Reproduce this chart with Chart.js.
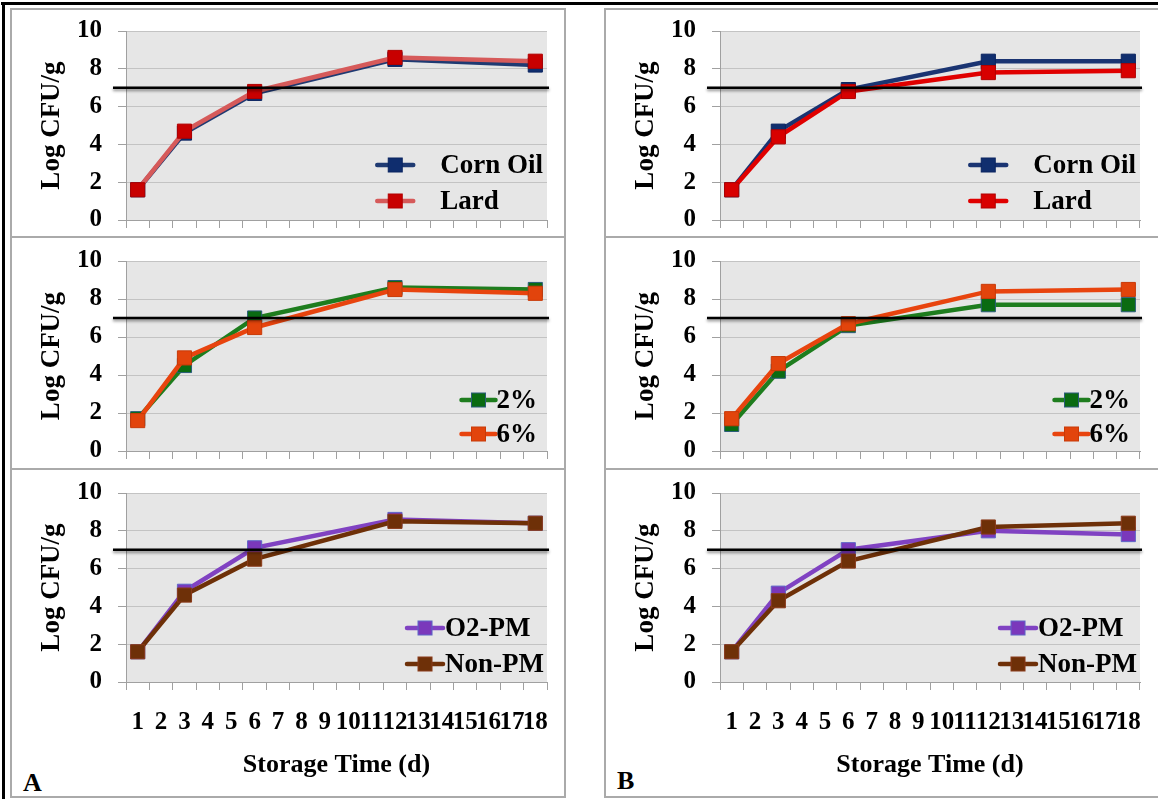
<!DOCTYPE html>
<html>
<head>
<meta charset="utf-8">
<script src="https://cdn.jsdelivr.net/npm/chart.js@4"></script>
<style>
  html, body { margin: 0; padding: 0; background: #fff; }
  body { position: relative; width: 1158px; height: 799px; overflow: hidden; }
  .abs { position: absolute; }
  .frame { position: absolute; border: 2px solid #aaaaaa; box-sizing: border-box; }
  .black { position: absolute; background: #000; }
  .tag { position: absolute; font: bold 26px "Liberation Serif", serif; color: #000; line-height: 1; }
</style>
</head>
<body>
<!-- outer rule lines -->
<div class="black" style="left:1px;top:2px;width:1157px;height:3px;"></div>
<div class="black" style="left:2px;top:2px;width:3px;height:797px;"></div>

<!-- panel frames -->
<div class="frame" style="left:10px;top:8px;width:556px;height:230px;"></div>
<div class="frame" style="left:10px;top:236px;width:556px;height:234px;"></div>
<div class="frame" style="left:10px;top:468px;width:556px;height:330px;"></div>
<div class="frame" style="left:604px;top:8px;width:570px;height:230px;"></div>
<div class="frame" style="left:604px;top:236px;width:570px;height:234px;"></div>
<div class="frame" style="left:604px;top:468px;width:570px;height:330px;"></div>

<div class="tag" style="left:23px;top:770px;">A</div>
<div class="tag" style="left:617px;top:768px;">B</div>

<div class="abs" style="left:11px;top:0px;"><canvas id="a1" width="556" height="252"></canvas></div>
<div class="abs" style="left:11px;top:230px;"><canvas id="a2" width="556" height="253"></canvas></div>
<div class="abs" style="left:11px;top:462px;"><canvas id="a3" width="556" height="340"></canvas></div>
<div class="abs" style="left:605px;top:0px;"><canvas id="b1" width="555" height="252"></canvas></div>
<div class="abs" style="left:605px;top:230px;"><canvas id="b2" width="555" height="253"></canvas></div>
<div class="abs" style="left:605px;top:462px;"><canvas id="b3" width="555" height="340"></canvas></div>

<script>
// Sampling days and the category labels of the time axis
const days = [1, 3, 6, 12, 18];
const dayLabels = ['1','2','3','4','5','6','7','8','9','10','11','12','13','14','15','16','17','18'];
const spoilageLimit = 7;

// Log CFU/g, column A
const aCornOil = [1.6, 4.6, 6.7, 8.5, 8.2];
const aLard    = [1.6, 4.7, 6.8, 8.6, 8.4];
const aFat2    = [1.7, 4.5, 7.0, 8.6, 8.5];
const aFat6    = [1.6, 4.9, 6.5, 8.5, 8.3];
const aO2PM    = [1.6, 4.8, 7.1, 8.6, 8.4];
const aNonPM   = [1.6, 4.6, 6.5, 8.5, 8.4];

// Log CFU/g, column B
const bCornOil = [1.6, 4.7, 6.9, 8.4, 8.4];
const bLard    = [1.6, 4.4, 6.8, 7.8, 7.9];
const bFat2    = [1.4, 4.2, 6.6, 7.7, 7.7];
const bFat6    = [1.7, 4.6, 6.7, 8.4, 8.5];
const bO2PM    = [1.6, 4.7, 7.0, 8.0, 7.8];
const bNonPM   = [1.6, 4.3, 6.4, 8.2, 8.4];

const SERIF = '"Liberation Serif", "Times New Roman", serif';

// light grey plotting area
const plotBg = {
  id: 'plotBg',
  beforeDraw(chart) {
    const { ctx, chartArea: a } = chart;
    ctx.save();
    ctx.fillStyle = '#e6e6e6';
    ctx.fillRect(a.left, a.top, a.right - a.left, a.bottom - a.top);
    ctx.restore();
  }
};

// black reference line at the spoilage limit
const limitLine = {
  id: 'limitLine',
  afterDatasetsDraw(chart) {
    const { ctx, chartArea: a, scales } = chart;
    const y = scales.y.getPixelForValue(spoilageLimit);
    ctx.save();
    ctx.shadowColor = 'rgba(0,0,0,0.45)';
    ctx.shadowBlur = 3;
    ctx.shadowOffsetY = 2;
    ctx.strokeStyle = '#000';
    ctx.lineWidth = 2.6;
    ctx.beginPath();
    ctx.moveTo(a.left - 13, y);
    ctx.lineTo(a.right + 2, y);
    ctx.stroke();
    ctx.restore();
  }
};

// legend entries drawn as a line with a square marker, inside the plot
const lineLegend = {
  id: 'lineLegend',
  afterDraw(chart, args, opts) {
    const { ctx, chartArea: a } = chart;
    const ds = chart.data.datasets;
    ctx.save();
    ctx.font = 'bold ' + opts.fontSize + 'px ' + SERIF;
    const maxW = Math.max(...ds.map(d => ctx.measureText(d.label).width));
    const textX = a.right - opts.rightPad - maxW;
    ds.forEach((d, i) => {
      const y = a.bottom + opts.rows[i];
      const x2 = textX - opts.gap;
      const x1 = x2 - opts.sampleLen;
      ctx.strokeStyle = d.borderColor;
      ctx.lineWidth = 4.5;
      ctx.lineCap = 'round';
      ctx.beginPath();
      ctx.moveTo(x1, y);
      ctx.lineTo(x2, y);
      ctx.stroke();
      const s = 14, cx = (x1 + x2) / 2;
      ctx.fillStyle = d.pointBackgroundColor;
      ctx.fillRect(cx - s / 2, y - s / 2, s, s);
      ctx.lineWidth = 1;
      ctx.strokeStyle = d.pointBorderColor;
      ctx.strokeRect(cx - s / 2, y - s / 2, s, s);
      ctx.fillStyle = '#000';
      ctx.textAlign = 'left';
      ctx.textBaseline = 'middle';
      ctx.fillText(d.label, textX, y + 1);
    });
    ctx.restore();
  }
};

function series(label, values, line, marker, edge, order) {
  return {
    label,
    data: days.map((d, i) => ({ x: String(d), y: values[i] })),
    borderColor: line,
    borderWidth: 4.5,
    pointStyle: 'rect',
    pointRadius: 10,
    pointHoverRadius: 10,
    pointBackgroundColor: marker,
    pointBorderColor: edge,
    pointBorderWidth: 1,
    tension: 0,
    order
  };
}

function panel(id, sets, bottomRow, legendOpts) {
  const canvas = document.getElementById(id);
  const plotW = id[0] === 'a' ? 421 : 420;
  const tickFont = { family: SERIF, size: 25, weight: 'bold' };
  new Chart(canvas, {
    type: 'line',
    data: { labels: dayLabels, datasets: sets },
    options: {
      responsive: false,
      animation: false,
      devicePixelRatio: 1,
      layout: { padding: { left: 0, top: 31, right: canvas.width - 115 - plotW, bottom: 0 } },
      plugins: {
        legend: { display: false },
        tooltip: { enabled: false },
        lineLegend: legendOpts
      },
      scales: {
        x: {
          type: 'category',
          offset: true,
          grid: { offset: true, drawOnChartArea: false, drawTicks: true, tickLength: 8, tickColor: '#a0a0a0' },
          border: { color: '#a0a0a0', width: 1 },
          ticks: { display: bottomRow, autoSkip: false, maxRotation: 0, minRotation: 0, font: tickFont, color: '#000', padding: 18 },
          title: { display: bottomRow, text: 'Storage Time (d)', font: { family: SERIF, size: 26, weight: 'bold' }, color: '#000', padding: { top: 0, bottom: 21 } },
          afterFit(s) { s.height = bottomRow ? 120 : 32; }
        },
        y: {
          min: 0,
          max: 10,
          ticks: { stepSize: 2, font: tickFont, color: '#000', padding: 16 },
          grid: { color: '#c3c3c3', lineWidth: 1, tickLength: 8, tickColor: '#a0a0a0' },
          border: { color: '#a0a0a0', width: 1 },
          title: { display: true, text: 'Log CFU/g', font: { family: SERIF, size: 27, weight: 'bold' }, color: '#000', padding: { top: 25, bottom: 0 } },
          afterFit(s) { s.width = 115; }
        }
      }
    },
    plugins: [plotBg, limitLine, lineLegend]
  });
}

const legTop = { fontSize: 27, rightPad: 4, gap: 27, sampleLen: 36, rows: [-55, -19] };
const legMid = { fontSize: 27, rightPad: 10, gap: 1, sampleLen: 34, rows: [-51, -17] };
const legBot = { fontSize: 27, rightPad: 3, gap: 2, sampleLen: 36, rows: [-54, -18] };

panel('a1', [
  series('Corn Oil', aCornOil, '#1f3a72', '#0f2d6e', '#0a2460', 1),
  series('Lard', aLard, '#d65a5a', '#c80000', '#b00000', 0)
], false, legTop);
panel('a2', [
  series('2%', aFat2, '#1e7d1e', '#0a6b12', '#2a5c7a', 1),
  series('6%', aFat6, '#e8440e', '#e2440c', '#c83a08', 0)
], false, legMid);
panel('a3', [
  series('O2-PM', aO2PM, '#8042c2', '#7a38bb', '#5e66c8', 1),
  series('Non-PM', aNonPM, '#6e3008', '#6e3008', '#8a3a1a', 0)
], true, legBot);

panel('b1', [
  series('Corn Oil', bCornOil, '#1a3472', '#102e6e', '#0a2460', 1),
  series('Lard', bLard, '#e00000', '#d80000', '#b00000', 0)
], false, legTop);
panel('b2', [
  series('2%', bFat2, '#1e7d1e', '#0a6b12', '#2a5c7a', 1),
  series('6%', bFat6, '#e8440e', '#e2440c', '#c83a08', 0)
], false, legMid);
panel('b3', [
  series('O2-PM', bO2PM, '#8042c2', '#7a38bb', '#5e66c8', 1),
  series('Non-PM', bNonPM, '#6e3008', '#6e3008', '#8a3a1a', 0)
], true, legBot);
</script>
</body>
</html>
